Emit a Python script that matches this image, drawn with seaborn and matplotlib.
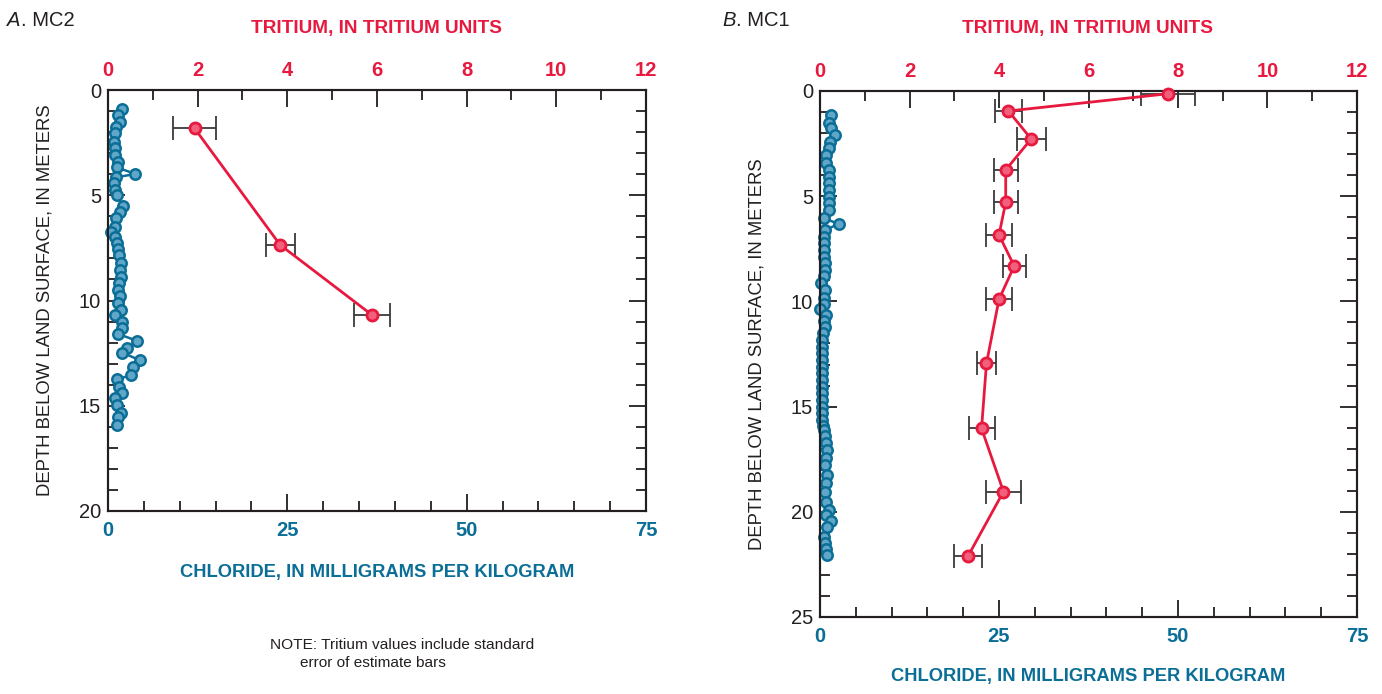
import matplotlib
matplotlib.use('Agg')
import matplotlib.pyplot as plt
from matplotlib.ticker import MultipleLocator
import pandas as pd
import seaborn as sns

# A. MC2 -- chloride profile
mc2_cl_depth = [0.90, 1.19, 1.50, 1.74, 2.06, 2.45, 2.77, 3.09, 3.40, 3.67, 3.99, 4.15,
                4.43, 4.75, 4.99, 5.51, 5.78, 6.10, 6.49, 6.73, 6.97, 7.28, 7.55, 7.84,
                8.23, 8.55, 8.87, 9.18, 9.50, 9.79, 10.13, 10.45, 10.69, 11.00, 11.32, 11.59,
                11.92, 12.27, 12.48, 12.83, 13.14, 13.54, 13.75, 14.10, 14.41, 14.65, 14.96,
                15.33, 15.55, 15.91]
mc2_cl = [1.9, 1.4, 1.7, 1.1, 1.0, 0.8, 1.0, 1.0, 1.4, 1.2, 3.8, 1.1,
          0.8, 1.0, 1.2, 2.1, 1.7, 1.1, 1.0, 0.4, 1.0, 1.3, 1.4, 1.6,
          1.8, 1.7, 1.8, 1.6, 1.4, 1.7, 1.4, 1.8, 1.0, 2.0, 1.9, 1.4,
          4.1, 2.6, 2.0, 4.4, 3.5, 3.2, 1.3, 1.6, 1.9, 1.0, 1.2,
          1.8, 1.4, 1.3]
# A. MC2 -- tritium
mc2_h3_depth = [1.82, 7.36, 10.69]
mc2_h3 = [1.93, 3.84, 5.89]
mc2_h3_err = [0.49, 0.32, 0.41]

# B. MC1 -- chloride profile
mc1_cl_depth = [1.14, 1.54, 1.77, 2.09, 2.41, 2.72, 3.04, 3.44, 3.75, 4.07, 4.39, 4.71,
                5.02, 5.34, 5.66, 6.05, 6.32, 6.61, 6.92, 7.24, 7.56, 7.87, 8.19, 8.51,
                8.80, 9.11, 9.46, 9.82, 10.10, 10.37, 10.65, 10.93, 11.20, 11.50, 11.83,
                12.15, 12.47, 12.79, 13.10, 13.42, 13.74, 14.05, 14.37, 14.69, 15.00,
                15.32, 15.64, 15.90, 16.10, 16.42, 16.74, 17.06, 17.46, 17.78, 18.25,
                18.65, 19.05, 19.52, 19.92, 20.16, 20.42, 20.74, 21.18, 21.50, 21.79, 22.06]
mc1_cl = [1.6, 1.3, 1.6, 2.1, 1.4, 1.3, 0.9, 0.9, 1.2, 1.3, 1.3, 1.3,
          1.3, 1.2, 1.3, 0.6, 2.6, 0.7, 0.6, 0.6, 0.6, 0.6, 0.7, 0.7,
          0.6, 0.1, 0.7, 0.6, 0.5, 0.05, 0.8, 0.6, 0.7, 0.4, 0.3,
          0.3, 0.3, 0.3, 0.3, 0.3, 0.3, 0.3, 0.3, 0.3, 0.3,
          0.3, 0.3, 0.4, 0.5, 0.7, 0.9, 1.0, 0.9, 0.7, 1.0,
          0.8, 0.7, 0.9, 1.2, 0.9, 1.5, 1.0, 0.6, 0.7, 0.8, 1.0]
# B. MC1 -- tritium
mc1_h3_depth = [0.13, 0.95, 2.28, 3.75, 5.29, 6.84, 8.32, 9.90, 12.95, 16.04, 19.04, 22.10]
mc1_h3 = [7.78, 4.21, 4.72, 4.15, 4.15, 4.00, 4.34, 4.00, 3.72, 3.61, 4.10, 3.31]
mc1_h3_err = [0.60, 0.31, 0.32, 0.27, 0.27, 0.29, 0.26, 0.30, 0.22, 0.29, 0.39, 0.32]

BLUE = '#0b6e96'
BLUE_FACE = '#5fa6c8'
RED = '#e8193f'
RED_FACE = '#f0607c'
INK = '#231f20'

sns.set_style('ticks')
plt.rcParams['font.family'] = ['Liberation Sans', 'DejaVu Sans']
plt.rcParams['axes.edgecolor'] = INK
plt.rcParams['axes.linewidth'] = 1.5

W, H = 1382, 694
fig = plt.figure(figsize=(W / 100, H / 100), dpi=100)


def px(x, y):
    return x / W, 1 - y / H


def panel(rect, cl_depth, cl, h3_depth, h3, h3_err, ymax):
    ax = fig.add_axes(rect)
    df_cl = pd.DataFrame({'depth': cl_depth, 'chloride': cl})
    sns.lineplot(data=df_cl, x='chloride', y='depth', orient='y', sort=False,
                 estimator=None, ax=ax, color=BLUE, linewidth=1.8, marker='o',
                 markersize=7.5, markerfacecolor=BLUE_FACE, markeredgecolor=BLUE,
                 markeredgewidth=1.8, clip_on=False, zorder=3)
    ax.set_xlim(0, 75)
    ax.set_ylim(ymax, 0)
    ax.xaxis.set_major_locator(MultipleLocator(25))
    ax.xaxis.set_minor_locator(MultipleLocator(5))
    ax.yaxis.set_major_locator(MultipleLocator(5))
    ax.yaxis.set_minor_locator(MultipleLocator(1))
    ax.tick_params(axis='x', which='both', direction='in', bottom=True, top=False,
                   colors=INK, labelcolor=BLUE, pad=7)
    ax.tick_params(axis='y', which='both', direction='in', left=True, right=True,
                   colors=INK, pad=5, labelsize=14.5)
    ax.tick_params(which='major', length=12, width=1.3)
    ax.tick_params(which='minor', length=7.5, width=1.3)
    for lab in ax.get_xticklabels():
        lab.set_fontweight('bold')
        lab.set_fontsize(14.5)
    ax.set_xlabel('')
    ax.set_ylabel('DEPTH BELOW LAND SURFACE, IN METERS', fontsize=13.3, color=INK)
    ax.yaxis.set_label_coords(-0.102, 0.5)

    ax2 = ax.twiny()
    ax2.errorbar(h3, h3_depth, xerr=h3_err, fmt='none', ecolor='#3a3a3a',
                 elinewidth=1.3, capsize=8.5, capthick=1.3, zorder=2)
    df_h3 = pd.DataFrame({'depth': h3_depth, 'tritium': h3})
    sns.lineplot(data=df_h3, x='tritium', y='depth', orient='y', sort=False,
                 estimator=None, ax=ax2, color=RED, linewidth=2.0, marker='o',
                 markersize=8, markerfacecolor=RED_FACE, markeredgecolor=RED,
                 markeredgewidth=2.0, clip_on=False, zorder=4)
    ax2.set_xlim(0, 12)
    ax.set_ylim(ymax, 0)
    ax2.set_xlabel('')
    ax2.set_ylabel('')
    ax2.xaxis.set_major_locator(MultipleLocator(2))
    ax2.xaxis.set_minor_locator(MultipleLocator(1))
    ax2.tick_params(axis='x', which='both', direction='in', top=True, bottom=False,
                    colors=INK, labelcolor=RED, pad=7)
    ax2.tick_params(which='major', length=12, width=1.3)
    ax2.tick_params(which='minor', length=7.5, width=1.3)
    for lab in ax2.get_xticklabels():
        lab.set_fontweight('bold')
        lab.set_fontsize(14.5)
    return ax, ax2


panel([108 / W, 1 - 511 / H, 538 / W, 421 / H],
      mc2_cl_depth, mc2_cl, mc2_h3_depth, mc2_h3, mc2_h3_err, 20)
panel([820 / W, 1 - 617 / H, 537 / W, 526 / H],
      mc1_cl_depth, mc1_cl, mc1_h3_depth, mc1_h3, mc1_h3_err, 25)

# panel letters: italic letter followed by the well name
renderer = fig.canvas.get_renderer()
for x0, letter, name in [(7, 'A', '. MC2'), (722, 'B', '. MC1')]:
    t = fig.text(*px(x0, 20), letter, fontsize=14.5, style='italic', va='center',
                 ha='left', color=INK)
    x1 = t.get_window_extent(renderer).x1
    fig.text(x1 / W + 0.5 / W, 1 - 20 / H, name, fontsize=14.5, va='center',
             ha='left', color=INK)

fig.text(*px(377, 29), 'TRITIUM, IN TRITIUM UNITS', fontsize=13.7, fontweight='bold',
         color=RED, ha='center', va='center')
fig.text(*px(1088, 29), 'TRITIUM, IN TRITIUM UNITS', fontsize=13.7, fontweight='bold',
         color=RED, ha='center', va='center')
fig.text(*px(377, 573), 'CHLORIDE, IN MILLIGRAMS PER KILOGRAM', fontsize=13.2,
         fontweight='bold', color=BLUE, ha='center', va='center')
fig.text(*px(1088, 677), 'CHLORIDE, IN MILLIGRAMS PER KILOGRAM', fontsize=13.2,
         fontweight='bold', color=BLUE, ha='center', va='center')

fig.text(*px(270, 645), 'NOTE: Tritium values include standard', fontsize=11.1,
         ha='left', va='center', color=INK)
fig.text(*px(300, 663), 'error of estimate bars', fontsize=11.1,
         ha='left', va='center', color=INK)

fig.savefig('out.png', dpi=100)
